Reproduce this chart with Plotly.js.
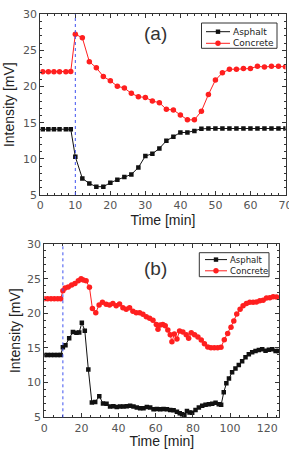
<!DOCTYPE html>
<html>
<head>
<meta charset="utf-8">
<script src="https://cdn.plot.ly/plotly-3.0.1.min.js"></script>
<style>
  html, body { margin: 0; padding: 0; background: #fff; overflow: hidden; }
  #chart { width: 289px; height: 449px; }
</style>
</head>
<body>
<div id="chart"></div>
<script>
// ---- panel (a) ----
const timeA = [0.7, 2.3, 3.9, 5.5, 7.3, 8.7, 10, 12, 14, 16, 18, 20, 22, 24, 26, 28, 30, 32, 34, 36, 38,
  40, 42, 44, 46, 48, 50, 52, 54, 56, 58, 60, 62, 64, 66, 68, 70];
const asphaltA = [14.1, 14.1, 14.1, 14.1, 14.1, 14.1, 10.3, 7.3, 6.6, 6.15, 6.15, 6.7, 7.1, 7.5, 7.85, 8.8,
  10.4, 10.7, 11.45, 12.5, 13.05, 13.65, 13.65, 13.85, 14.15, 14.2, 14.2, 14.2, 14.2, 14.2, 14.2, 14.2,
  14.2, 14.2, 14.2, 14.2, 14.2];
const concreteA = [22.05, 22.05, 22.05, 22.05, 22.05, 22.1, 27.25, 26.75, 23.45, 22.6, 21.4, 20.8, 20.05,
  19.8, 19.06, 18.6, 18.5, 18.0, 17.77, 16.85, 16.76, 16.07, 15.4, 15.4, 16.6, 18.9, 20.9, 21.9, 22.4,
  22.4, 22.5, 22.5, 22.8, 22.7, 22.8, 22.8, 22.75];

// ---- panel (b) ----
const timeAsphaltB = [0, 1.8, 3.6, 5.4, 7.2, 8.8, 10, 11.4, 13.4, 15.4, 17.3, 18.8, 20.2, 21.8, 23.7, 25.6,
  27.4, 29.6, 31.6, 33.5, 35.4, 37.2, 39.0, 40.8, 42.6, 44.4, 46.2, 48.0, 49.8, 51.6, 53.4, 55.2, 57.0,
  58.8, 60.6, 62.4, 64.2, 66.0, 67.8, 69.6, 71.4, 72.9, 74.2, 75.4, 76.8, 78.2, 79.6, 81.4, 83.2, 85.0,
  86.8, 88.6, 90.4, 92.2, 93.9, 95.2, 96.6, 98.0, 99.4, 101.1, 102.9, 104.7, 106.5, 108.3, 110.1, 111.9,
  113.7, 115.5, 117.3, 119.1, 120.9, 122.7, 124.5, 126.0];
const asphaltB = [14.0, 14.0, 14.0, 14.0, 14.0, 14.0, 15.1, 15.4, 16.4, 17.3, 17.2, 17.25, 18.65, 17.5, 11.9,
  7.15, 7.2, 8.05, 7.0, 6.95, 6.55, 6.6, 6.5, 6.55, 6.55, 6.6, 6.65, 6.55, 6.4, 6.3, 6.3, 6.5, 6.4, 6.15,
  6.2, 6.15, 6.2, 6.15, 6.05, 6.0, 5.8, 5.6, 5.45, 5.3, 5.9, 5.7, 5.65, 6.05, 6.4, 6.65, 6.8, 6.9, 6.95,
  7.1, 6.9, 6.8, 8.6, 9.9, 10.6, 11.5, 12.05, 12.55, 13.1, 13.65, 14.1, 14.4, 14.55, 14.7, 14.8, 14.6,
  14.75, 14.8, 14.55, 14.55];
const timeConcreteB = [0, 1.8, 3.6, 5.4, 7.2, 8.8, 10, 11.2, 12.9, 14.7, 16.5, 18.3, 19.8, 21.0, 22.5, 24.3,
  25.9, 27.7, 29.5, 31.3, 33.3, 35.1, 36.9, 38.7, 40.5, 42.3, 44.1, 45.9, 47.7, 49.5, 51.3, 53.1, 54.9,
  56.7, 58.5, 60.3, 61.2, 62.4, 63.8, 65.1, 66.5, 67.8, 68.7, 70.0, 71.4, 72.8, 74.6, 76.4, 77.7, 79.1,
  80.9, 82.7, 84.5, 86.2, 88.0, 89.7, 91.5, 93.3, 95.1, 96.9, 98.7, 100.5, 102.0, 103.6, 105.4, 107.0,
  108.8, 110.6, 112.4, 114.2, 116.0, 117.8, 119.6, 121.4, 123.2, 125.0];
const concreteB = [22.1, 22.1, 22.1, 22.1, 22.1, 22.1, 23.25, 23.65, 23.8, 24.1, 24.3, 24.7, 25.0, 24.8, 24.7,
  23.75, 20.7, 20.1, 21.2, 21.6, 21.3, 21.2, 21.4, 21.1, 21.35, 20.8, 20.6, 20.8, 20.3, 20.1, 20.1, 19.85,
  19.5, 19.3, 19.0, 18.4, 17.7, 18.3, 18.4, 18.2, 17.6, 16.9, 15.9, 17.0, 16.3, 17.45, 17.3, 16.9, 16.4,
  17.2, 16.9, 16.6, 16.15, 15.6, 15.15, 15.05, 15.05, 15.05, 15.1, 16.2, 17.1, 18.0, 18.9, 19.9, 20.6,
  21.1, 21.4, 21.6, 21.6, 21.65, 21.8, 21.9, 22.2, 22.25, 22.4, 22.35];

// moment the sample was introduced [min]
const injectTime = 10;

const panelLabels = ['(a)', '(b)'];
const seriesNames = ['Asphalt', 'Concrete'];
const xTitle = 'Time [min]';
const yTitle = 'Intensity [mV]';

const BLACK = '#111111';
const RED = '#ff1f1f';
const W = 289, H = 449;
const fx = v => v / W;          // pixel -> paper x
const fy = v => 1 - v / H;      // pixel -> paper y

function axis(extra) {
  return Object.assign({
    showgrid: false, zeroline: false,
    showline: true, linecolor: '#333', linewidth: 1, mirror: 'allticks',
    ticks: 'inside', ticklen: 4, tickwidth: 1, tickcolor: '#333',
    ticklabeloverflow: 'allow',
    tickfont: { family: 'DejaVu Sans', size: 11, color: '#555' },
    title: {},
  }, extra);
}

function asphaltTrace(x, y, xa, ya) {
  return { x, y, xaxis: xa, yaxis: ya, type: 'scatter', mode: 'lines+markers', name: seriesNames[0],
    line: { color: BLACK, width: 1 }, marker: { symbol: 'square', size: 4.5, color: BLACK },
    showlegend: false, cliponaxis: true };
}
function concreteTrace(x, y, xa, ya) {
  return { x, y, xaxis: xa, yaxis: ya, type: 'scatter', mode: 'lines+markers', name: seriesNames[1],
    line: { color: RED, width: 1 }, marker: { symbol: 'circle', size: 5.5, color: RED },
    showlegend: false, cliponaxis: true };
}

const data = [
  asphaltTrace(timeA, asphaltA, 'x', 'y'),
  concreteTrace(timeA, concreteA, 'x', 'y'),
  asphaltTrace(timeAsphaltB, asphaltB, 'x2', 'y2'),
  concreteTrace(timeConcreteB, concreteB, 'x2', 'y2'),
];

// hand-built legend box with line+marker samples
function legend(box, rowsY, sampleX, textX, fontSize) {
  const shapes = [{
    type: 'rect', xref: 'paper', yref: 'paper',
    x0: fx(box[0]), x1: fx(box[1]), y0: fy(box[3]), y1: fy(box[2]),
    line: { color: '#333', width: 1 }, fillcolor: '#fff', layer: 'above'
  }];
  const colors = [BLACK, RED];
  const ann = [];
  rowsY.forEach((ry, i) => {
    shapes.push({ type: 'line', xref: 'paper', yref: 'paper', x0: fx(sampleX[0]), x1: fx(sampleX[1]),
      y0: fy(ry), y1: fy(ry), line: { color: colors[i], width: 1 }, layer: 'above' });
    const cx = (sampleX[0] + sampleX[1]) / 2;
    const r = i === 0 ? 2.2 : 2.7;
    shapes.push({ type: i === 0 ? 'rect' : 'circle', xref: 'paper', yref: 'paper',
      x0: fx(cx - r), x1: fx(cx + r), y0: fy(ry + r), y1: fy(ry - r),
      line: { color: colors[i], width: 0 }, fillcolor: colors[i], layer: 'above' });
    ann.push({ xref: 'paper', yref: 'paper', x: fx(textX), y: fy(ry), xanchor: 'left', yanchor: 'middle',
      text: seriesNames[i], showarrow: false,
      font: { family: 'DejaVu Sans', size: fontSize, color: '#222' } });
  });
  return { shapes, ann };
}

const legA = legend([201.5, 277, 23, 48.3], [31.7, 43.3], [206, 230], [230.5], 9);
const legB = legend([199.3, 269, 252.7, 276.7], [259.6, 270.8], [205, 227], [227.5], 8.5);

const injectLines = [['x', 'y domain'], ['x2', 'y2 domain']].map(([xr, yr]) => ({
  type: 'line', xref: xr, yref: yr, x0: injectTime, x1: injectTime, y0: 0, y1: 1,
  line: { color: '#3f52f0', width: 1, dash: 'dot' }, layer: 'above'
}));

const titleFont = { family: 'Liberation Sans, Arial, sans-serif', size: 14, color: '#222' };

const layout = {
  width: W, height: H,
  margin: { l: 0, r: 0, t: 0, b: 0 },
  paper_bgcolor: '#fff', plot_bgcolor: '#fff',
  showlegend: false,
  xaxis: axis({ domain: [fx(40.3), fx(285.5)], range: [0, 70.01], dtick: 10, anchor: 'y',
    minor: { ticks: 'inside', ticklen: 2, tickcolor: '#333', dtick: 2 },
    title: { text: xTitle, font: titleFont, standoff: 2 } }),
  yaxis: axis({ domain: [fy(195), fy(14.3)], range: [5, 30], dtick: 5, anchor: 'x',
    minor: { ticks: 'inside', ticklen: 2, tickcolor: '#333', dtick: 1 },
    title: { text: yTitle, font: titleFont, standoff: 5 } }),
  xaxis2: axis({ domain: [fx(44.3), fx(279.3)], range: [0, 126.5], dtick: 20, anchor: 'y2',
    minor: { ticks: 'inside', ticklen: 2, tickcolor: '#333', dtick: 5 },
    title: { text: xTitle, font: titleFont, standoff: 0 } }),
  yaxis2: axis({ domain: [fy(417.3), fy(244)], range: [5, 30], dtick: 5, anchor: 'x2',
    minor: { ticks: 'inside', ticklen: 2, tickcolor: '#333', dtick: 1 },
    title: { text: yTitle, font: titleFont, standoff: 3 } }),
  shapes: injectLines.concat(legA.shapes, legB.shapes),
  annotations: [
    { xref: 'paper', yref: 'paper', x: fx(155), y: fy(33), text: panelLabels[0], showarrow: false,
      xanchor: 'center', yanchor: 'middle', font: { family: 'Liberation Sans, Arial, sans-serif', size: 19, color: '#333' } },
    { xref: 'paper', yref: 'paper', x: fx(155), y: fy(268), text: panelLabels[1], showarrow: false,
      xanchor: 'center', yanchor: 'middle', font: { family: 'Liberation Sans, Arial, sans-serif', size: 19, color: '#333' } },
  ].concat(legA.ann, legB.ann),
};

Plotly.newPlot('chart', data, layout, { staticPlot: true, displayModeBar: false });
</script>
</body>
</html>
